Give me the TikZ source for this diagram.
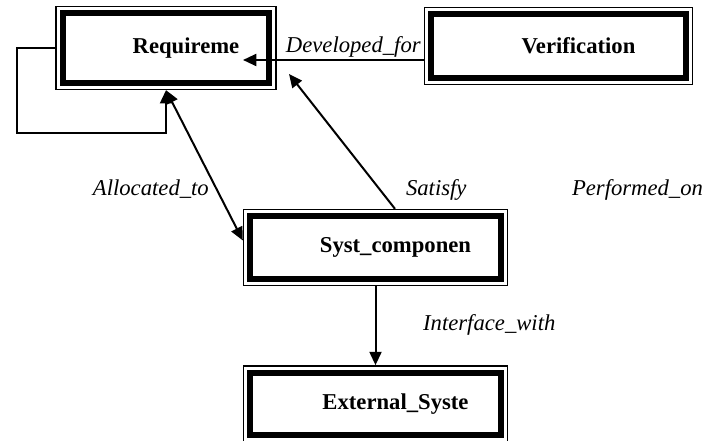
\documentclass[tikz,border=0pt]{standalone}
\usepackage{fontspec}
\setmainfont{Liberation Serif}
\usepackage{tikz}
\usetikzlibrary{arrows.meta,positioning,calc}

\tikzset{
  entity/.style={draw, line width=1pt, minimum width=#1, minimum height=57pt,
    inner sep=0pt, font=\fontsize{17}{20}\selectfont\bfseries,
    execute at begin node={\hspace*{30pt}},
    path picture={\draw[line width=4.5pt]
      ([shift={(5pt,-5pt)}]path picture bounding box.north west) rectangle
      ([shift={(-5pt,5pt)}]path picture bounding box.south east);}},
  link/.style={line width=1.5pt},
  rel/.style={font=\fontsize{17}{20}\selectfont\itshape, inner sep=0pt},
  >={Triangle[length=10pt,width=9pt]}
}

\begin{document}
\begin{tikzpicture}[x=0.75pt,y=0.75pt]

\useasboundingbox (0,0) rectangle (723,-441);

% Entities
\node[entity=165pt, minimum height=62.25pt] (req) at (166,-48) {Requireme};
\node[entity=201pt, minimum height=57.75pt] (ver) at (558.5,-46) {Verification};
\node[entity=198pt] (sys) at (375.5,-247.5) {Syst\_componen};
\node[entity=198pt, below=59.25pt of sys] (ext) {External\_Syste};

% Free ends
\coordinate (loopcorner) at (17,-133);
\coordinate (devtip) at (243,-60);
\coordinate (sattip) at (289,-74);

% Relations
\draw[link,->] (req.west) -| (loopcorner) -| (req.south);

\draw[link,->] (ver.west |- devtip) -- (devtip)
  node[rel, pos=0.39, anchor=base, yshift=5.25pt] {Developed\_for};

\draw[link,<->] (req.south) -- ([yshift=5.25pt]sys.west)
  node[rel, pos=0.7, anchor=base east, xshift=-7.5pt] {Allocated\_to};

\draw[link,->] ([xshift=14.6pt]sys.north) -- (sattip)
  node[rel, pos=0.1, anchor=base west, xshift=15.5pt] {Satisfy};

\draw[link,->] (sys.south) -- (ext.north)
  node[rel, pos=0.56, anchor=base west, xshift=35pt] {Interface\_with};

\node[rel, anchor=base] (perf) at (637.5,-196) {Performed\_on};

\end{tikzpicture}
\end{document}
